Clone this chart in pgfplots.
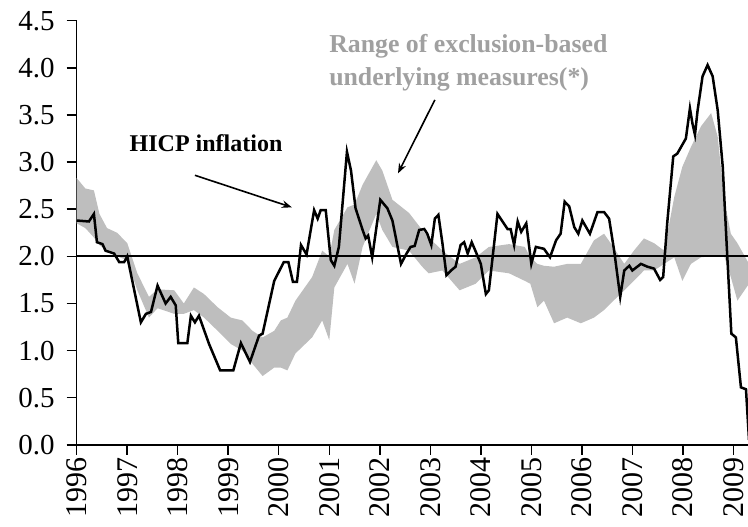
\documentclass[border=0pt]{standalone}
\usepackage{fontspec}
\setmainfont{Liberation Serif}
\usepackage{pgfplots}
\pgfplotsset{compat=1.18}
\usepackage{pgfplotstable}
\usepgfplotslibrary{fillbetween}
\usetikzlibrary{arrows.meta}

\definecolor{bandgray}{RGB}{190,190,190}
\definecolor{txtgray}{RGB}{160,160,160}

% HICP inflation (year, %)
\pgfplotstableread{
x y
1996.00 2.38
1996.24 2.37
1996.34 2.45
1996.40 2.15
1996.51 2.13
1996.57 2.06
1996.74 2.03
1996.84 1.94
1996.94 1.94
1997.00 2.00
1997.27 1.30
1997.37 1.39
1997.47 1.41
1997.60 1.69
1997.76 1.50
1997.86 1.57
1997.96 1.48
1998.01 1.08
1998.19 1.08
1998.26 1.37
1998.34 1.30
1998.42 1.37
1998.62 1.07
1998.84 0.79
1999.10 0.79
1999.25 1.08
1999.43 0.88
1999.61 1.16
1999.68 1.18
1999.91 1.74
2000.10 1.94
2000.19 1.94
2000.28 1.73
2000.36 1.73
2000.44 2.12
2000.55 2.02
2000.70 2.49
2000.77 2.40
2000.83 2.49
2000.93 2.49
2001.03 1.96
2001.10 1.90
2001.19 2.10
2001.35 3.11
2001.43 2.91
2001.52 2.51
2001.66 2.28
2001.72 2.19
2001.77 2.22
2001.85 1.99
2002.01 2.60
2002.15 2.51
2002.25 2.38
2002.42 1.92
2002.53 2.03
2002.61 2.10
2002.69 2.11
2002.78 2.28
2002.88 2.29
2002.94 2.24
2003.02 2.12
2003.09 2.40
2003.16 2.44
2003.24 2.14
2003.32 1.80
2003.41 1.85
2003.50 1.89
2003.60 2.12
2003.67 2.15
2003.74 2.03
2003.82 2.15
2003.90 2.05
2004.00 1.92
2004.10 1.60
2004.16 1.64
2004.33 2.45
2004.53 2.29
2004.59 2.29
2004.66 2.12
2004.73 2.37
2004.80 2.26
2004.90 2.35
2005.00 1.92
2005.09 2.10
2005.25 2.08
2005.37 1.99
2005.49 2.17
2005.58 2.24
2005.66 2.58
2005.75 2.53
2005.85 2.31
2005.93 2.24
2006.01 2.38
2006.16 2.24
2006.31 2.47
2006.44 2.47
2006.54 2.40
2006.64 2.06
2006.76 1.57
2006.84 1.85
2006.94 1.90
2007.00 1.85
2007.17 1.92
2007.30 1.89
2007.43 1.87
2007.55 1.75
2007.61 1.78
2007.69 2.35
2007.81 3.06
2007.89 3.09
2008.06 3.25
2008.14 3.57
2008.19 3.41
2008.24 3.29
2008.29 3.54
2008.39 3.91
2008.49 4.03
2008.59 3.91
2008.69 3.55
2008.79 2.95
2008.87 2.10
2008.96 1.18
2009.05 1.14
2009.15 0.61
2009.25 0.59
2009.31 0.05
}\hicp

% range of exclusion-based measures (year, low, high)
\pgfplotstableread{
x lo hi
1996.00 2.35 2.83
1996.17 2.30 2.72
1996.34 2.20 2.70
1996.45 2.12 2.45
1996.60 2.06 2.30
1996.80 2.00 2.25
1997.00 1.96 2.14
1997.20 1.64 1.82
1997.43 1.35 1.57
1997.60 1.45 1.65
1997.93 1.39 1.64
1998.12 1.39 1.50
1998.32 1.43 1.67
1998.52 1.35 1.60
1998.79 1.21 1.46
1999.05 1.07 1.35
1999.28 1.00 1.32
1999.48 0.86 1.21
1999.68 0.73 1.14
1999.91 0.82 1.21
2000.04 0.82 1.32
2000.17 0.79 1.35
2000.33 0.97 1.53
2000.66 1.14 1.78
2000.86 1.32 2.06
2001.00 1.11 2.00
2001.10 1.67 2.28
2001.36 1.92 2.52
2001.50 1.71 2.55
2001.66 2.10 2.76
2001.93 2.45 3.02
2002.05 2.28 2.91
2002.25 2.10 2.60
2002.58 2.06 2.46
2002.84 1.89 2.28
2002.97 1.82 2.20
2003.24 1.85 2.06
2003.58 1.64 1.92
2003.90 1.71 1.99
2004.16 1.85 2.10
2004.56 1.82 2.13
2004.87 1.74 2.10
2004.98 1.71 1.99
2005.12 1.46 1.92
2005.25 1.53 1.90
2005.45 1.29 1.89
2005.71 1.35 1.92
2005.98 1.29 1.92
2006.24 1.35 2.17
2006.44 1.43 2.24
2006.57 1.50 2.14
2006.84 1.64 1.92
2007.03 1.74 2.06
2007.23 1.85 2.19
2007.43 1.85 2.14
2007.63 1.92 2.06
2007.83 1.99 2.63
2007.99 1.74 2.95
2008.16 1.92 3.16
2008.36 1.99 3.38
2008.56 2.00 3.52
2008.69 2.00 3.27
2008.82 2.00 2.60
2008.95 1.78 2.24
2009.08 1.53 2.14
2009.31 1.71 1.92
}\band

\begin{document}
\begin{tikzpicture}
\begin{axis}[
    name=ax,
    width=335.5pt, height=212pt,
    scale only axis,
    xmin=1996, xmax=2009.29,
    ymin=0, ymax=4.5,
    axis x line*=bottom,
    axis y line*=left,
    axis line style={line width=0.75pt},
    tick style={line width=0.75pt, black},
    tick align=outside,
    major tick length=5pt,
    xtick={1996,...,2009},
    ytick={0,0.5,...,4.5},
    /pgf/number format/assume math mode=true,
    x tick label style={/pgf/number format/1000 sep={}, rotate=90, anchor=east,
        font=\fontsize{15}{15}\selectfont, inner sep=1pt},
    y tick label style={/pgf/number format/.cd, fixed, fixed zerofill, precision=1,
        /tikz/.cd, font=\fontsize{14.5}{14.5}\selectfont, xshift=-2.5pt},
    clip=false,
]
\addplot[name path=lo, draw=none, forget plot] table[x=x, y=lo] {\band};
\addplot[name path=hi, draw=none, forget plot] table[x=x, y=hi] {\band};
\addplot[bandgray, draw=none] fill between[of=hi and lo];
\addplot[black, line width=0.9pt] coordinates {(1996,2) (2009.29,2)};
\addplot[black, line width=1.25pt] table[x=x, y=y] {\hicp};

\node[font=\bfseries\fontsize{12}{12}\selectfont] at (axis cs:1998.56,3.20) {HICP inflation};
\draw[-{Stealth[length=5pt]}, line width=0.8pt] (axis cs:1998.34,2.86) -- (axis cs:2000.26,2.52);
\node[anchor=west, align=left, text=txtgray, font=\bfseries\fontsize{12.9}{16.5}\selectfont]
    at (axis cs:2000.86,4.05) {Range of exclusion-based\\underlying measures(*)};
\draw[-{Stealth[length=5pt]}, line width=0.8pt] (axis cs:2003.09,3.66) -- (axis cs:2002.36,2.88);
\end{axis}
\pgfresetboundingbox
\path[use as bounding box] ([xshift=-38.35pt,yshift=-41pt]ax.south west) rectangle ([yshift=10.35pt]ax.north east);
\end{tikzpicture}
\end{document}
